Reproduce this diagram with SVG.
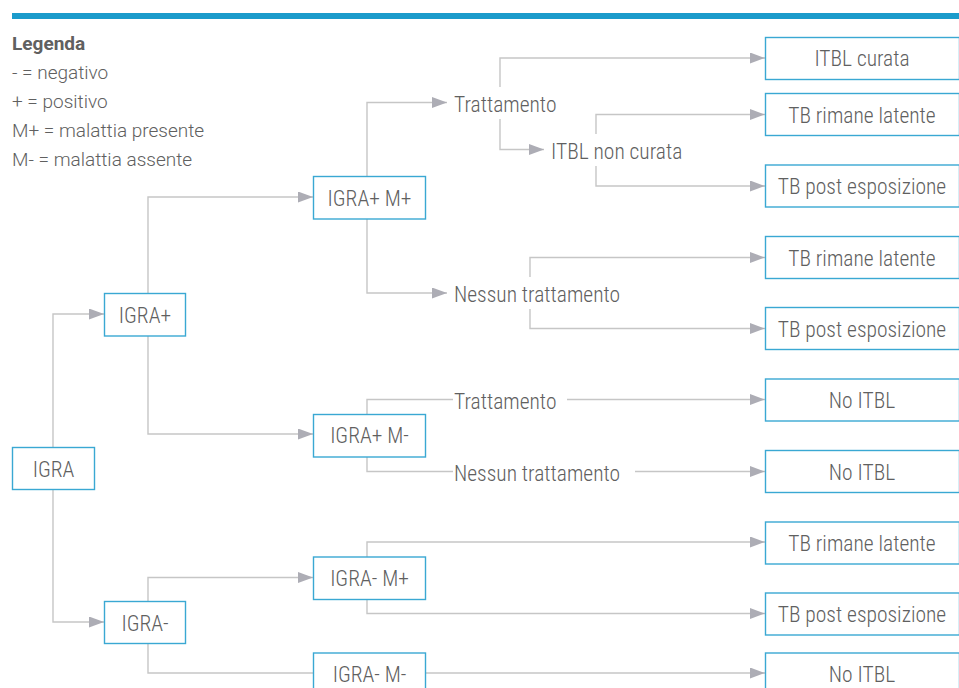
<svg xmlns="http://www.w3.org/2000/svg" width="959" height="688" viewBox="0 0 959 688">
<style>
.box{fill:#fff;stroke:#3aa8d3;stroke-width:1.4}
.t{font-family:"Liberation Sans Narrow","Roboto Condensed","DejaVu Sans Condensed",sans-serif;font-size:21.5px;font-weight:300;fill:#606060}
.c{text-anchor:middle}
.lg{font-family:"Roboto","Liberation Sans",sans-serif;font-size:19px;font-weight:300;fill:#606060}
.cn{fill:none;stroke:#c6c6c6;stroke-width:1.4}
</style>
<defs>
<marker id="ah" markerUnits="userSpaceOnUse" markerWidth="16" markerHeight="12" refX="15" refY="5.5" orient="auto"><path d="M0,0 L15,5.5 L0,11 z" fill="#adadb5"/></marker>
</defs>
<rect x="12" y="13" width="947" height="6" fill="#1b9bcb"/>
<g id="legend">
<text class="lg" x="12" y="50" style="font-weight:bold">Legenda</text>
<text class="lg" x="12" y="79">- = negativo</text>
<text class="lg" x="12" y="108">+ = positivo</text>
<text class="lg" x="12" y="137">M+ = malattia presente</text>
<text class="lg" x="12" y="166">M- = malattia assente</text>
</g>
<g id="connectors">
<path class="cn" marker-end="url(#ah)" d="M53,447 V314 H104"/>
<path class="cn" marker-end="url(#ah)" d="M53,489 V622 H104"/>
<path class="cn" marker-end="url(#ah)" d="M148,293 V197 H313"/>
<path class="cn" marker-end="url(#ah)" d="M148,336 V434 H313"/>
<path class="cn" marker-end="url(#ah)" d="M148,601 V577.5 H313"/>
<path class="cn" d="M148,644 V673 H313"/>
<path class="cn" marker-end="url(#ah)" d="M367,176 V102.5 H447"/>
<path class="cn" marker-end="url(#ah)" d="M367,219 V293 H447"/>
<path class="cn" marker-end="url(#ah)" d="M500,87 V58 H765"/>
<path class="cn" marker-end="url(#ah)" d="M500,119 V149.5 H544"/>
<path class="cn" marker-end="url(#ah)" d="M596,134 V114.5 H765"/>
<path class="cn" marker-end="url(#ah)" d="M596,166 V186 H765"/>
<path class="cn" marker-end="url(#ah)" d="M530,277 V257.5 H765"/>
<path class="cn" marker-end="url(#ah)" d="M530,309 V328.5 H765"/>
<path class="cn" d="M367,414 V399.5 H453"/>
<path class="cn" marker-end="url(#ah)" d="M567,399.5 H765"/>
<path class="cn" d="M367,457 V471.5 H453"/>
<path class="cn" marker-end="url(#ah)" d="M635,471.5 H765"/>
<path class="cn" marker-end="url(#ah)" d="M367,557 V542 H765"/>
<path class="cn" marker-end="url(#ah)" d="M367,599 V613.5 H765"/>
<path class="cn" marker-end="url(#ah)" d="M426,673 H765"/>
</g>
<g id="igra"><rect class="box" x="12.5" y="447.5" width="82" height="42"/><text class="t c" x="53.5" y="476.5">IGRA</text></g>
<g id="igra-pos"><rect class="box" x="104.5" y="293.5" width="81" height="42.5"/><text class="t c" x="145" y="322.5">IGRA+</text></g>
<g id="igra-neg"><rect class="box" x="104.5" y="601.5" width="81" height="42"/><text class="t c" x="145" y="630.5">IGRA-</text></g>
<g id="igra-pos-mpos"><rect class="box" x="313.5" y="176.5" width="112" height="42.5"/><text class="t c" x="369.5" y="205.5">IGRA+ M+</text></g>
<g id="igra-pos-mneg"><rect class="box" x="313.5" y="414.5" width="112" height="42.5"/><text class="t c" x="369.5" y="443">IGRA+ M-</text></g>
<g id="igra-neg-mpos"><rect class="box" x="313.5" y="557" width="112" height="42.5"/><text class="t c" x="369.5" y="586">IGRA- M+</text></g>
<g id="igra-neg-mneg"><rect class="box" x="313.5" y="653" width="112" height="42.5"/><text class="t c" x="369.5" y="682">IGRA- M-</text></g>
<g id="tratt1"><text class="t" x="454" y="111.5">Trattamento</text></g>
<g id="itbl-non-curata"><text class="t" x="551" y="159">ITBL non curata</text></g>
<g id="nessun1"><text class="t" x="454" y="302">Nessun trattamento</text></g>
<g id="tratt2"><text class="t" x="454" y="408.5">Trattamento</text></g>
<g id="nessun2"><text class="t" x="454" y="480.5">Nessun trattamento</text></g>
<g id="r1"><rect class="box" x="765.5" y="37.5" width="194" height="42"/><text class="t c" x="862" y="66">ITBL curata</text></g>
<g id="r2"><rect class="box" x="765.5" y="93.5" width="194" height="42"/><text class="t c" x="862" y="122.5">TB rimane latente</text></g>
<g id="r3"><rect class="box" x="765.5" y="165" width="194" height="42"/><text class="t c" x="862" y="194">TB post esposizione</text></g>
<g id="r4"><rect class="box" x="765.5" y="236.5" width="194" height="42"/><text class="t c" x="862" y="265.5">TB rimane latente</text></g>
<g id="r5"><rect class="box" x="765.5" y="307.5" width="194" height="42"/><text class="t c" x="862" y="336.5">TB post esposizione</text></g>
<g id="r6"><rect class="box" x="765.5" y="379" width="194" height="42"/><text class="t c" x="862" y="408">No ITBL</text></g>
<g id="r7"><rect class="box" x="765.5" y="450.5" width="194" height="42"/><text class="t c" x="862" y="479.5">No ITBL</text></g>
<g id="r8"><rect class="box" x="765.5" y="522" width="194" height="42"/><text class="t c" x="862" y="551">TB rimane latente</text></g>
<g id="r9"><rect class="box" x="765.5" y="593" width="194" height="42"/><text class="t c" x="862" y="622">TB post esposizione</text></g>
<g id="r10"><rect class="box" x="765.5" y="653" width="194" height="42"/><text class="t c" x="862" y="682">No ITBL</text></g>
</svg>
